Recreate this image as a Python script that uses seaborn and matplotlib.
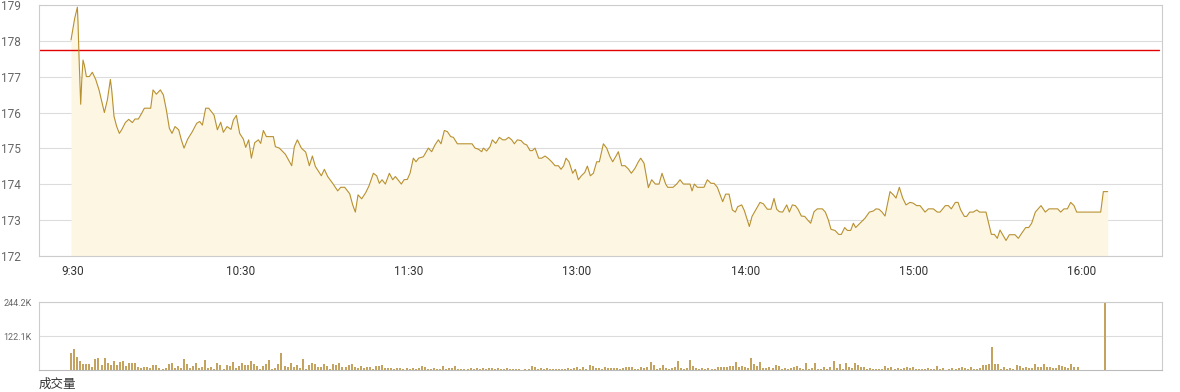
import numpy as np
import pandas as pd
import matplotlib
matplotlib.use("Agg")
import matplotlib.pyplot as plt
import seaborn as sns

# ---------------- data ----------------
# price line vertices: trading-minute index (from 9:30, lunch removed) and price
minute_am = [0.0, 0.55, 1.2, 1.75, 2.08, 2.3, 2.62, 2.95, 3.17, 3.5,
             3.93, 4.37, 5.03, 6.0, 6.99, 8.09, 9.18, 10.93, 11.91, 12.9,
             13.33, 14.1, 14.97, 15.85, 16.61, 17.81, 18.91, 20.11, 20.98, 22.08,
             23.17, 24.04, 26.12, 26.89, 27.98, 29.29, 30.27, 31.26, 32.24, 33.11,
             34.1, 35.3, 36.17, 37.05, 38.25, 39.78, 41.2, 42.19, 43.06, 44.15,
             45.14, 46.89, 47.98, 49.07, 49.95, 51.15, 52.46, 53.22, 54.21, 55.3,
             56.5, 57.27, 58.25, 59.13, 60.22, 61.42, 62.19, 63.06, 64.04, 66.34,
             67.0, 68.3, 70.27, 72.35, 73.22, 74.21, 75.52, 76.94, 78.14, 79.13,
             80.11, 82.08, 83.06, 84.15, 85.79, 87.43, 88.42, 89.73, 91.37, 92.35,
             93.22, 94.1, 95.3, 96.61, 97.7, 99.13, 100.22, 101.09, 101.97, 103.06,
             104.37, 105.47, 106.34, 107.65]
price_am = [178.02, 178.30, 178.62, 178.81, 178.93, 178.48, 177.55, 176.72, 176.23, 176.86,
            177.46, 177.32, 177.0, 177.0, 177.12, 176.92, 176.63, 176.0, 176.35, 176.92,
            176.63, 175.89, 175.61, 175.42, 175.52, 175.72, 175.81, 175.72, 175.82, 175.82,
            175.98, 176.12, 176.12, 176.63, 176.51, 176.63, 176.49, 176.07, 175.56, 175.42,
            175.61, 175.52, 175.24, 175.01, 175.26, 175.47, 175.70, 175.75, 175.65, 176.12,
            176.12, 175.93, 175.52, 175.73, 175.45, 175.61, 175.53, 175.79, 175.92, 175.42,
            175.26, 175.03, 175.24, 174.73, 175.16, 175.24, 175.14, 175.50, 175.33, 175.33,
            175.05, 175.01, 174.84, 174.52, 175.05, 175.24, 175.01, 174.90, 174.52, 174.79,
            174.50, 174.24, 174.42, 174.22, 174.03, 173.82, 173.92, 173.92, 173.74, 173.43,
            173.23, 173.71, 173.60, 173.77, 173.96, 174.31, 174.24, 174.03, 174.13, 174.01,
            174.31, 174.13, 174.22, 174.08]

minute_mid = [108.31, 109.18, 110.27, 111.15, 112.24, 113.11, 113.99, 115.52, 117.16, 118.25,
              119.34, 120.44, 121.31, 122.4, 123.39, 124.48, 125.36, 126.67, 131.48, 132.46,
              133.55, 134.65, 135.19, 136.28, 137.38, 138.14, 139.24, 140.44, 141.53, 142.4,
              143.5, 144.48, 145.36, 146.34, 147.54, 148.52, 149.4, 150.49, 151.26, 152.13,
              153.33, 154.32, 155.41, 156.5, 157.6, 158.69, 159.78, 160.66, 161.53, 162.3,
              163.28, 164.48, 165.36, 166.34, 167.32, 168.42, 169.29, 170.27, 171.26, 172.35,
              173.22, 174.54, 175.63, 176.72, 177.6, 178.69, 179.45, 180.55, 181.64, 182.73,
              183.72, 184.92, 186.01, 186.78, 187.87, 189.29, 190.38, 191.58, 192.79, 193.77,
              194.97, 195.63, 197.38, 198.58, 199.67, 200.77, 202.95, 203.61, 204.37, 205.36,
              207.54, 208.63, 209.84, 210.82, 211.91, 213.66, 214.64, 215.74, 216.83, 217.81,
              218.58, 219.89, 220.77, 222.4, 223.28, 224.48, 225.9]
price_mid = [174.01, 174.13, 174.14, 174.31, 174.73, 174.63, 174.73, 174.77, 175.01, 174.91,
             175.10, 175.24, 175.13, 175.50, 175.47, 175.33, 175.31, 175.13, 175.13, 175.01,
             174.98, 174.91, 175.01, 174.93, 175.05, 175.24, 175.14, 175.31, 175.24, 175.24,
             175.31, 175.24, 175.13, 175.24, 175.22, 175.13, 175.10, 174.94, 174.94, 175.01,
             174.73, 174.73, 174.79, 174.72, 174.63, 174.52, 174.52, 174.42, 174.52, 174.73,
             174.63, 174.31, 174.42, 174.13, 174.24, 174.33, 174.51, 174.24, 174.31, 174.63,
             174.63, 175.13, 175.01, 174.77, 174.63, 174.79, 174.91, 174.52, 174.52, 174.43,
             174.31, 174.45, 174.63, 174.73, 174.59, 173.91, 174.13, 174.01, 174.01, 174.31,
             174.01, 173.92, 173.92, 174.01, 174.13, 174.01, 174.01, 173.82, 174.01, 173.92,
             173.92, 174.13, 174.03, 174.03, 173.92, 173.52, 173.73, 173.73, 173.29, 173.23,
             173.38, 173.43, 173.27, 172.83, 173.11, 173.29, 173.50]

minute_pm = [226.99, 228.3, 229.51, 230.49, 231.37, 232.24, 233.33, 234.65, 235.52, 236.5,
             237.49, 238.36, 239.45, 240.55, 241.53, 242.51, 243.61, 244.7, 246.34, 247.32,
             248.31, 249.18, 250.49, 251.69, 252.57, 253.66, 254.53, 255.63, 256.5, 257.27,
             258.69, 260.33, 261.75, 263.06, 263.93, 264.92, 265.9, 266.89, 268.52, 269.62,
             270.49, 271.58, 272.68, 273.77, 275.08, 276.07, 277.27, 278.36, 280.0, 281.09,
             282.73, 284.04, 284.92, 286.67, 287.65, 288.63, 289.95, 290.82, 291.69, 292.9,
             293.66, 294.65, 295.85, 296.94, 297.92, 299.99, 301.75, 302.73, 303.71, 304.59,
             305.46, 306.56, 307.65, 309.51, 310.6, 311.69, 313.0, 313.99, 314.97, 316.17,
             318.03, 319.45, 320.66, 323.5, 324.48, 325.57, 326.67, 327.76, 328.85, 329.73,
             337.6, 338.47, 339.89]
price_pm = [173.46, 173.31, 173.31, 173.61, 173.31, 173.24, 173.23, 173.43, 173.23, 173.43,
            173.41, 173.31, 173.12, 173.11, 173.01, 172.92, 173.24, 173.32, 173.32, 173.23,
            173.01, 172.75, 172.72, 172.61, 172.61, 172.80, 172.72, 172.72, 172.92, 172.80,
            172.92, 173.06, 173.23, 173.26, 173.32, 173.31, 173.23, 173.12, 173.80, 173.71,
            173.62, 173.92, 173.62, 173.43, 173.50, 173.48, 173.41, 173.41, 173.23, 173.32,
            173.32, 173.23, 173.23, 173.41, 173.41, 173.32, 173.50, 173.50, 173.29, 173.11,
            173.11, 173.23, 173.23, 173.29, 173.23, 173.23, 172.61, 172.61, 172.50, 172.73,
            172.60, 172.44, 172.60, 172.60, 172.50, 172.64, 172.80, 172.80, 172.92, 173.23,
            173.41, 173.23, 173.32, 173.32, 173.23, 173.32, 173.32, 173.50, 173.41, 173.23,
            173.23, 173.80, 173.80]

prev_close = 177.73

# per-minute volume (thousands of shares)
vol_am = [63, 77, 48, 34, 20, 22, 20, 12, 40, 44,
          18, 44, 26, 18, 33, 18, 29, 33, 15, 26,
          26, 26, 11, 7, 11, 11, 7, 18, 18, 7,
          4, 7, 22, 26, 7, 15, 7, 40, 22, 7,
          15, 26, 7, 11, 37, 7, 11, 4, 26, 18,
          4, 18, 15, 29, 7, 15, 26, 18, 18, 33,
          22, 15, 4, 15, 22, 37, 4, 7, 22, 62,
          15, 11, 26, 11, 18, 7, 40, 4, 18, 26,
          22, 11, 11, 22, 15, 4, 22, 18, 26, 11,
          11, 18, 22, 11, 7, 15, 7, 11, 11, 4,
          15, 15, 18, 7, 7, 7, 4, 7, 7, 4, 7]
vol_mid = [4, 6, 2, 6, 13, 10, 4, 4, 6, 4,
           4, 13, 4, 7, 7, 13, 4, 4, 4, 4,
           6, 4, 6, 4, 6, 4, 6, 6, 4, 6,
           4, 4, 6, 4, 4, 4, 4, 1, 4, 4,
           15, 10, 4, 6, 4, 6, 4, 4, 4, 4,
           4, 4, 6, 4, 6, 10, 4, 10, 4, 17,
           13, 7, 7, 4, 10, 7, 7, 7, 7, 4,
           7, 10, 10, 10, 4, 4, 10, 7, 10, 28,
           17, 4, 7, 17, 7, 4, 7, 10, 32, 7,
           4, 7, 35, 13, 7, 4, 7, 4, 7, 4,
           4, 10, 10, 10, 10, 13, 13, 28, 10, 13, 10, 7]
vol_pm = [44, 21, 13, 28, 7, 7, 10, 7, 17, 13,
          4, 7, 2, 6, 10, 13, 6, 4, 24, 4,
          6, 24, 4, 4, 11, 4, 11, 33, 7, 21,
          4, 24, 10, 6, 24, 17, 11, 11, 4, 7,
          4, 4, 4, 4, 13, 7, 11, 4, 6, 4,
          7, 11, 7, 11, 4, 4, 4, 4, 6, 4,
          4, 13, 4, 6, 1, 4, 6, 4, 6, 11,
          6, 4, 10, 4, 4, 6, 17, 17, 21, 83,
          21, 21, 4, 10, 4, 6, 4, 17, 13, 6,
          11, 6, 6, 21, 11, 11, 21, 11, 11, 6,
          6, 17, 13, 11, 6, 21, 10, 10]
close_auction_minute = 339
close_auction_vol = 244.2

xtick_labels = ["9:30", "10:30", "11:30", "13:00", "14:00", "15:00", "16:00"]
price_ticks = [172, 173, 174, 175, 176, 177, 178, 179]
vol_ticks = [122.1, 244.2]
vol_tick_labels = ["122.1K", "244.2K"]

# ---------------- build frames ----------------
price_df = pd.DataFrame({"minute": minute_am + minute_mid + minute_pm,
                         "price": price_am + price_mid + price_pm})
vol_values = vol_am + vol_mid + vol_pm
vol_df = pd.DataFrame({"minute": list(range(len(vol_values))) + [close_auction_minute],
                       "volume": vol_values + [close_auction_vol]})

# ---------------- style ----------------
sns.set_style("white")
plt.rcParams["font.family"] = ["Roboto", "Noto Sans CJK SC", "DejaVu Sans"]

LINE = "#b8912f"
FILL = "#fdf6e2"
BAR = "#c3a35f"
GRID = "#dcdcdc"
SPINE = "#cccccc"

W, H = 1180, 392
fig = plt.figure(figsize=(W / 100, H / 100), dpi=100)
left, right = 38.7, 1162
ax = fig.add_axes([left / W, 1 - 256.3 / H, (right - left) / W, (256.3 - 4.7) / H])
axv = fig.add_axes([left / W, 1 - 370 / H, (right - left) / W, (370 - 302.3) / H])

xmin, xmax = -10.6, 357.7

# price panel
ax.fill_between(price_df["minute"], price_df["price"], price_ticks[0],
                color=FILL, lw=0, zorder=1)
ax.axhline(prev_close, color="#e30000", lw=1.0, zorder=2.5, xmax=0.997)
sns.lineplot(data=price_df, x="minute", y="price", ax=ax, color=LINE,
             lw=0.8, sort=False, estimator=None, zorder=3)
ax.set_xlim(xmin, xmax)
ax.set_ylim(price_ticks[0], price_ticks[-1])
ax.set_yticks(price_ticks)
ax.set_yticklabels([str(t) for t in price_ticks])
xtick_pos = np.linspace(0.5, 331.3, len(xtick_labels))
ax.set_xticks(xtick_pos)
ax.set_xticklabels(xtick_labels)
ax.set_xlabel("")
ax.set_ylabel("")
ax.yaxis.grid(True, color=GRID, lw=0.8)
ax.set_axisbelow(True)
ax.tick_params(axis="y", length=0, pad=13, labelsize=8.5, labelcolor="#666666")
ax.tick_params(axis="x", length=0, pad=6, labelsize=8.5, labelcolor="#333333")
for s in ax.spines.values():
    s.set_color(SPINE)
    s.set_linewidth(0.8)

# volume panel
sns.barplot(data=vol_df, x="minute", y="volume", ax=axv, native_scale=True,
            color=BAR, saturation=1, width=0.65, errorbar=None, linewidth=0)
axv.set_xlim(xmin, xmax)
axv.set_ylim(0, close_auction_vol)
axv.set_yticks(vol_ticks)
axv.set_yticklabels(vol_tick_labels)
axv.set_xticks([])
axv.set_xlabel("")
axv.set_ylabel("")
axv.yaxis.grid(True, color=GRID, lw=0.8)
axv.set_axisbelow(True)
axv.tick_params(axis="y", length=0, pad=5, labelsize=6.5, labelcolor="#666666")
for s in axv.spines.values():
    s.set_color(SPINE)
    s.set_linewidth(0.8)
axv.spines["bottom"].set_color("#bbbbbb")

fig.text(38.5 / W, 1 - 384.5 / H, "成交量", ha="left", va="center",
         fontsize=9, color="#333333")

fig.savefig("out.png", dpi=100)
